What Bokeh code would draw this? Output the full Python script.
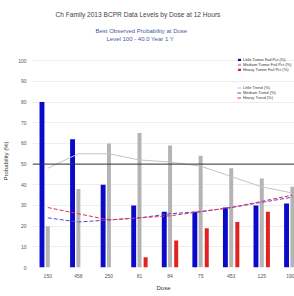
from bokeh.plotting import figure
from bokeh.models import (ColumnDataSource, Legend, LegendItem, Span, Title,
                          FixedTicker, Range1d)
from bokeh.embed import file_html
from bokeh.resources import INLINE

categories = ["150", "458", "250", "81", "84", "75", "453", "125", "190"]
little_bars = [80, 62, 40, 30, 27, 27, 29, 30, 31]
medium_bars = [20, 38, 60, 65, 59, 54, 48, 43, 39]
heavy_bars = [0, 0, 0, 5, 13, 19, 22, 27, 28]
little_trend = [48, 55, 55, 52, 51, 49, 44, 39, 36]
medium_trend = [24, 22, 23, 24, 26, 27, 29, 31.5, 34]
heavy_trend = [29, 26, 23, 24, 25, 27, 29, 32, 35]
y_ticks = [0, 10, 20, 30, 40, 50, 60, 70, 80, 90, 100]
threshold = 50
title_lines = ["Ch Family 2013 BCPR Data Levels by Dose at 12 Hours",
               "Best Observed Probability at Dose",
               "Level 100 - 40.0 Year 1 Y"]

xs = list(range(len(categories)))
src = ColumnDataSource(dict(
    x=xs,
    xb=[x - 0.19 for x in xs],
    xg=xs,
    xr=[x + 0.2 for x in xs],
    little=little_bars, medium=medium_bars, heavy=heavy_bars,
    lt=little_trend, mt=medium_trend, ht=heavy_trend,
))

FONT = "Liberation Sans"
p = figure(width=294, height=296, output_backend="svg", toolbar_location=None,
           x_range=Range1d(-0.5, 8.07), y_range=Range1d(0, 103),
           min_border_left=32, min_border_right=0, min_border_top=54,
           min_border_bottom=29)
p.outline_line_color = None

b1 = p.vbar(x="xb", top="little", width=0.16, source=src,
            fill_color="#0a0ac8", line_color=None)
b2 = p.vbar(x="xg", top="medium", width=0.13, source=src,
            fill_color="#b4b4b4", line_color=None)
b3 = p.vbar(x="xr", top="heavy", width=0.13, source=src,
            fill_color="#e02222", line_color=None)
l1 = p.line(x="x", y="lt", source=src, color="#c4c4c4", line_width=1)
l2 = p.line(x="x", y="mt", source=src, color="#5a46c8", line_width=1,
            line_dash="4 2")
l3 = p.line(x="x", y="ht", source=src, color="#e0305a", line_width=1,
            line_dash="4 2")

p.add_layout(Span(location=threshold, dimension="width", line_color="#333333",
                  line_width=1))

p.xaxis.ticker = FixedTicker(ticks=xs)
p.xaxis.major_label_overrides = {i: c for i, c in enumerate(categories)}
p.yaxis.ticker = FixedTicker(ticks=y_ticks)
for ax in (p.xaxis[0], p.yaxis[0]):
    ax.axis_line_color = None
    ax.major_tick_line_color = None
    ax.minor_tick_line_color = None
    ax.major_tick_out = 0
    ax.major_tick_in = 0
    ax.minor_tick_out = 0
    ax.major_label_text_font = FONT
    ax.major_label_text_font_size = "5px"
    ax.major_label_text_color = "#555555"
    ax.axis_label_text_font = FONT
    ax.axis_label_text_font_size = "6px"
    ax.axis_label_text_font_style = "normal"
    ax.axis_label_text_color = "#333333"
p.xaxis.major_label_standoff = 6
p.xaxis.axis_label_standoff = 4
p.yaxis.major_label_standoff = 6
p.yaxis.axis_label_standoff = 6
p.xaxis.axis_label = "Dose"
p.yaxis.axis_label = "Probability (%)"
p.xgrid.grid_line_color = None
p.ygrid.grid_line_color = "#eeeeee"

leg1 = Legend(items=[LegendItem(label="Little Tumor Fail Pct (%)", renderers=[b1]),
                     LegendItem(label="Medium Tumor Fail Pct (%)", renderers=[b2]),
                     LegendItem(label="Heavy Tumor Fail Pct (%)", renderers=[b3])],
              location=(205, 195))
leg2 = Legend(items=[LegendItem(label="Little Trend (%)", renderers=[l1]),
                     LegendItem(label="Medium Trend (%)", renderers=[l2]),
                     LegendItem(label="Heavy Trend (%)", renderers=[l3])],
              location=(205, 167))
for lg in (leg1, leg2):
    lg.label_text_font = FONT
    lg.label_text_font_size = "4px"
    lg.label_text_color = "#333333"
    lg.glyph_width = 4
    lg.glyph_height = 3
    lg.label_height = 4
    lg.label_standoff = 2
    lg.spacing = 0
    lg.padding = 0
    lg.margin = 0
    lg.border_line_color = None
    lg.background_fill_alpha = 0
    p.add_layout(lg)

# spacer between the title block and the plot frame
spacer = Title(text=" ", text_font=FONT, text_font_size="6px", standoff=5)
t3 = Title(text=title_lines[2], align="left", text_font=FONT,
           text_font_size="6px", text_font_style="normal",
           text_color="#4a5a9a", offset=74, standoff=0)
t2 = Title(text=title_lines[1], align="left",
           text_font=FONT, text_font_size="6px", text_font_style="normal",
           text_color="#4a5a9a", offset=63, standoff=0)
t1 = Title(text=title_lines[0],
           align="left", text_font=FONT, text_font_size="6.6px",
           text_font_style="normal", text_color="#444444", offset=23,
           standoff=16)
p.add_layout(spacer, "above")
p.add_layout(t3, "above")
p.add_layout(t2, "above")
p.add_layout(t1, "above")

open("out.html", "w").write(file_html(p, INLINE))
